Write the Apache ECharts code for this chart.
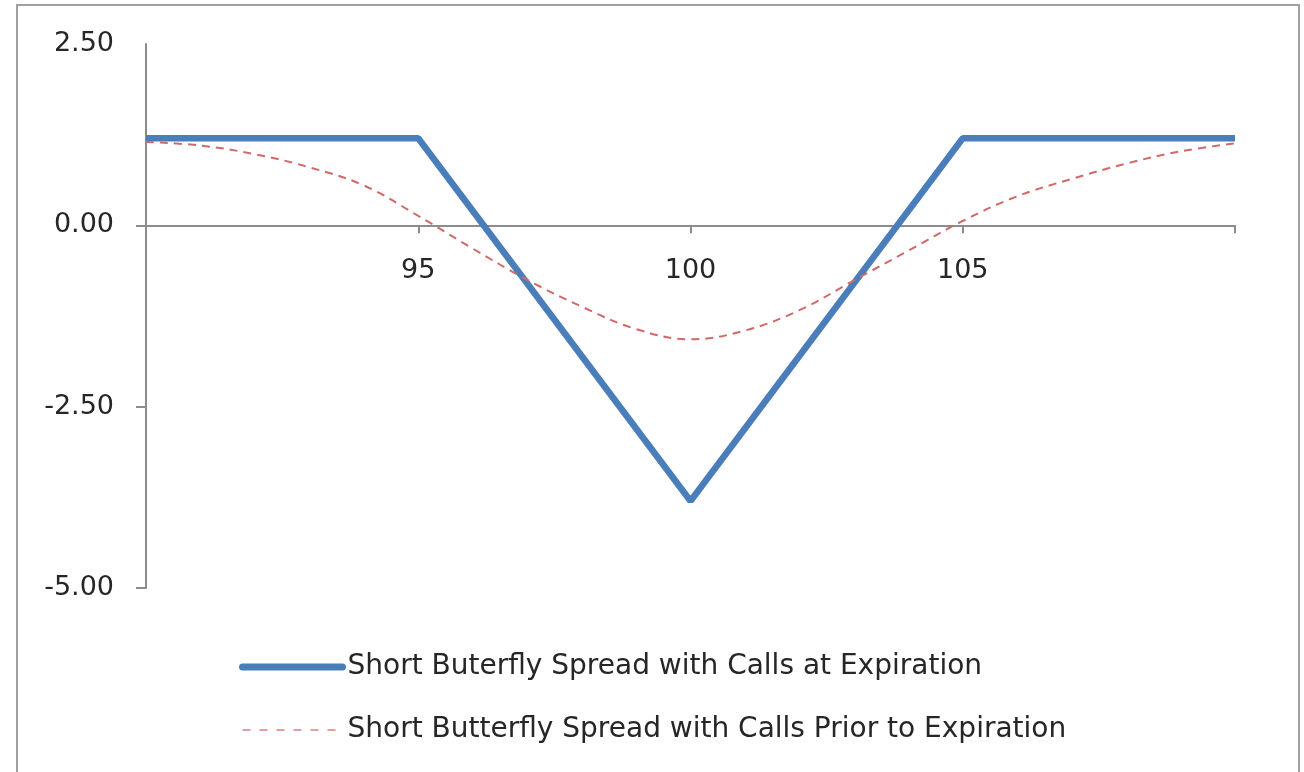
<!DOCTYPE html>
<html>
<head>
<meta charset="utf-8">
<style>
  html, body { margin: 0; padding: 0; background: #ffffff; }
  #chart { width: 1304px; height: 772px; }
</style>
<script src="https://cdn.jsdelivr.net/npm/echarts@6/dist/echarts.min.js"></script>
</head>
<body>
<div id="chart"></div>
<script>
// ---- data ----
const seriesNames = [
  'Short Buterfly Spread with Calls at Expiration',
  'Short Butterfly Spread with Calls Prior to Expiration'
];
const expirationX = [90, 95, 100, 105, 110];
const expirationY = [1.2, 1.2, -3.8, 1.2, 1.2];
const priorX = [90, 91, 92, 93, 94, 95, 96, 97, 98, 99, 100, 101, 102, 103, 104, 105, 106, 107, 108, 109, 110];
const priorY = [1.15, 1.10, 0.98, 0.80, 0.55, 0.13, -0.32, -0.75, -1.12, -1.43, -1.57, -1.45, -1.17, -0.76, -0.35, 0.06, 0.40, 0.64, 0.85, 1.02, 1.13];
const xTickLabels = [95, 100, 105];
const yTickValues = [-5, -2.5, 0];

const chart = echarts.init(document.getElementById('chart'), null, { renderer: 'canvas' });
const FONT = 'DejaVu Sans';
const AXIS = '#8c8c8c';
const TEXT = '#262626';
const BLUE = '#4a7ebb';
const RED = '#cf6a68';
const option = {
  backgroundColor: '#ffffff',
  animation: false,
  graphic: [{
    type: 'rect',
    shape: { x: 17, y: 5, width: 1282, height: 800 },
    style: { fill: 'none', stroke: '#a0a0a0', lineWidth: 2 },
    silent: true
  }],
  grid: [
    { left: 146, right: 69, top: 44, bottom: 184 },
    { left: 146, right: 69, top: 44, bottom: 546.67 }
  ],
  xAxis: [
    {
      type: 'value', min: 90, max: 110, interval: 5, gridIndex: 0,
      axisLine: { show: true, onZero: true, lineStyle: { color: AXIS, width: 2 } },
      axisTick: { show: true, length: 8, lineStyle: { color: AXIS, width: 2 } },
      splitLine: { show: false },
      axisLabel: { show: false }
    },
    {
      type: 'value', min: 90, max: 110, interval: 5, gridIndex: 1, position: 'bottom',
      axisLine: { show: false }, axisTick: { show: false }, splitLine: { show: false },
      axisLabel: {
        margin: 32, color: TEXT, fontFamily: FONT, fontSize: 27,
        formatter: v => (xTickLabels.indexOf(v) >= 0 ? String(v) : '')
      }
    }
  ],
  yAxis: [
    {
      type: 'value', min: -5, max: 2.5, interval: 2.5, gridIndex: 0,
      axisLine: { show: true, onZero: false, lineStyle: { color: AXIS, width: 2 } },
      axisTick: { show: true, length: 10, customValues: yTickValues, lineStyle: { color: AXIS, width: 2 } },
      splitLine: { show: false },
      axisLabel: {
        margin: 32, color: TEXT, fontFamily: FONT, fontSize: 27,
        formatter: v => v.toFixed(2)
      }
    },
    {
      type: 'value', min: 0, max: 1, gridIndex: 1, show: false
    }
  ],
  legend: {
    orient: 'vertical', left: 234, top: 645,
    itemWidth: 100, itemHeight: 14, itemGap: 29,
    itemStyle: { opacity: 0 },
    data: [
      { name: seriesNames[0], lineStyle: { width: 7, color: BLUE, cap: 'round' } },
      { name: seriesNames[1], lineStyle: { width: 2, color: '#e0a09e', type: [8, 9] } }
    ],
    textStyle: { color: TEXT, fontFamily: FONT, fontSize: 28, lineHeight: 34 }
  },
  series: [
    {
      name: seriesNames[0], type: 'line', symbol: 'none', xAxisIndex: 0, yAxisIndex: 0,
      data: expirationX.map((x, i) => [x, expirationY[i]]),
      lineStyle: { color: BLUE, width: 6.5 }, itemStyle: { color: BLUE }
    },
    {
      name: seriesNames[1], type: 'line', symbol: 'none', smooth: 0.4, xAxisIndex: 0, yAxisIndex: 0,
      data: priorX.map((x, i) => [x, priorY[i]]),
      lineStyle: { color: RED, width: 2, type: [8, 6] }, itemStyle: { color: RED }
    }
  ]
};
chart.setOption(option);
</script>
</body>
</html>
